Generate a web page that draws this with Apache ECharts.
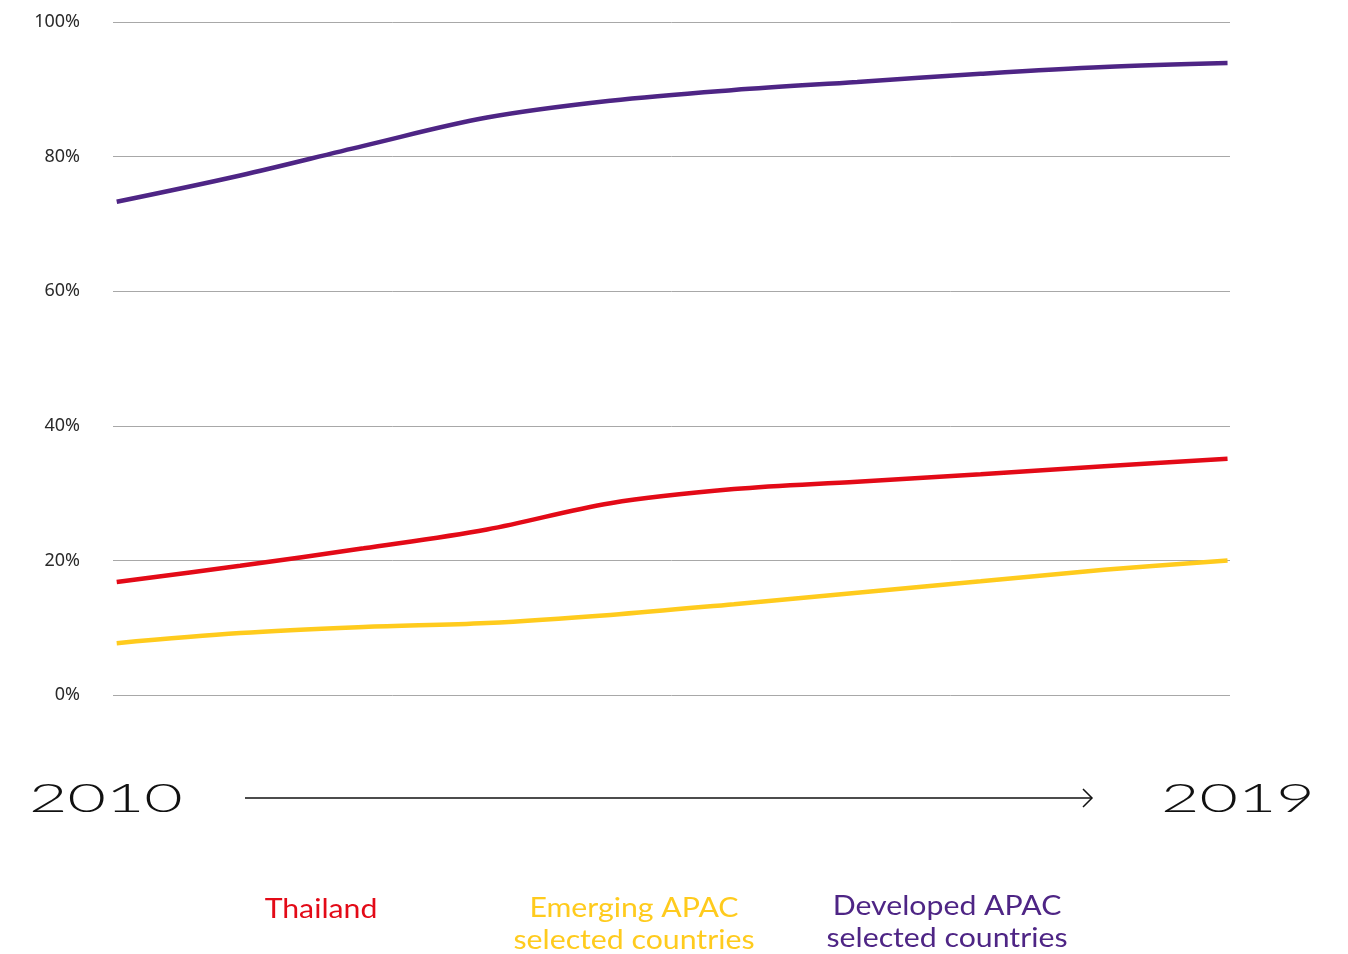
<!DOCTYPE html>
<html>
<head>
<meta charset="utf-8">
<script src="https://cdn.jsdelivr.net/npm/echarts@6/dist/echarts.min.js"></script>
<style>
  html, body { margin: 0; padding: 0; background: #fff; }
  #main { width: 1348px; height: 954px; }
</style>
</head>
<body>
<div id="main"></div>
<script>
var years = [2010, 2011, 2012, 2013, 2014, 2015, 2016, 2017, 2018, 2019];
var thailand = [16.8, 19.2, 21.8, 24.6, 28.5, 30.6, 31.7, 32.8, 34.0, 35.1];
var emerging = [7.7, 9.2, 10.1, 10.7, 11.9, 13.5, 15.2, 16.9, 18.6, 20.0];
var developed = [73.3, 77.2, 81.6, 85.8, 88.3, 89.9, 91.1, 92.3, 93.3, 93.9];
var yTicks = [0, 20, 40, 60, 80, 100];

var chart = echarts.init(document.getElementById('main'));

function pairs(vals) {
    return vals.map(function (v, i) { return [years[i], v]; });
}

var font = 'Lato, "Noto Sans", sans-serif';

option = {
    backgroundColor: '#fff',
    animation: false,
    grid: {
        left: 113,
        right: 118,
        top: 22,
        bottom: 259
    },
    xAxis: {
        type: 'value',
        min: 2009.97,
        max: 2019.02,
        show: false
    },
    yAxis: {
        type: 'value',
        min: yTicks[0],
        max: yTicks[yTicks.length - 1],
        interval: 20,
        axisLine: { show: false },
        axisTick: { show: false },
        splitLine: {
            lineStyle: { color: '#a8a8a8', width: 1 }
        },
        axisLabel: {
            margin: 33,
            color: '#2a2a2a',
            fontSize: 18,
            fontFamily: '"Noto Sans", sans-serif',
            formatter: function (v) { return v + '%'; }
        }
    },
    series: [
        {
            name: 'Developed APAC selected countries',
            type: 'line',
            smooth: 0.35,
            symbol: 'none',
            lineStyle: { color: '#4e2585', width: 4.5 },
            data: pairs(developed)
        },
        {
            name: 'Thailand',
            type: 'line',
            smooth: 0.35,
            symbol: 'none',
            lineStyle: { color: '#e30a17', width: 4.5 },
            data: pairs(thailand)
        },
        {
            name: 'Emerging APAC selected countries',
            type: 'line',
            smooth: 0.35,
            symbol: 'none',
            lineStyle: { color: '#ffcb1d', width: 4.5 },
            data: pairs(emerging)
        }
    ],
    graphic: [
        {
            type: 'text',
            x: 29, y: 799,
            scaleX: 1.7,
            style: {
                text: String(years[0]),
                font: '300 39px ' + font,
                fill: '#111',
                textVerticalAlign: 'middle'
            }
        },
        {
            type: 'text',
            x: 1161, y: 799,
            scaleX: 1.7,
            style: {
                text: String(years[years.length - 1]),
                font: '300 39px ' + font,
                fill: '#111',
                textVerticalAlign: 'middle'
            }
        },
        {
            type: 'line',
            shape: { x1: 245, y1: 798, x2: 1092, y2: 798 },
            style: { stroke: '#111', lineWidth: 1.5 }
        },
        {
            type: 'polyline',
            shape: { points: [[1083, 789], [1092, 798], [1083, 807]] },
            style: { stroke: '#111', lineWidth: 1.5, fill: null }
        },
        {
            type: 'text',
            x: 321, y: 909,
            scaleX: 1.12,
            style: {
                text: 'Thailand',
                font: '400 27px ' + font,
                fill: '#e30a17',
                textAlign: 'center',
                textVerticalAlign: 'middle'
            }
        },
        {
            type: 'text',
            x: 634, y: 924,
            scaleX: 1.12,
            style: {
                text: 'Emerging APAC\nselected countries',
                font: '400 27px ' + font,
                lineHeight: 32,
                fill: '#ffcb1d',
                textAlign: 'center',
                textVerticalAlign: 'middle'
            }
        },
        {
            type: 'text',
            x: 947, y: 922,
            scaleX: 1.12,
            style: {
                text: 'Developed APAC\nselected countries',
                font: '400 27px ' + font,
                lineHeight: 32,
                fill: '#4e2585',
                textAlign: 'center',
                textVerticalAlign: 'middle'
            }
        }
    ]
};

chart.setOption(option);
</script>
</body>
</html>
